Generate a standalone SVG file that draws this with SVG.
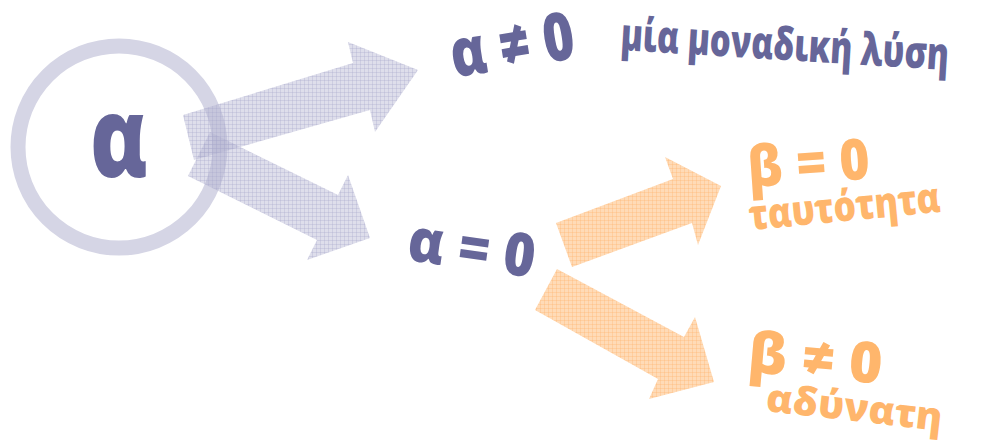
<svg xmlns="http://www.w3.org/2000/svg" width="982" height="441" viewBox="0 0 982 441">
<defs>
<style>
.t{font-family:"Open Sans","Liberation Sans",sans-serif;font-weight:800;text-anchor:middle}
.p{fill:#666699}
.o{fill:#ffb66c}
.ap{fill:url(#patP)}
.ao{fill:url(#patO)}
</style>
<pattern id="patP" width="4" height="4" patternUnits="userSpaceOnUse">
<rect width="4" height="4" fill="#b4b4d2" fill-opacity="0.44"/>
<rect width="1" height="4" fill="#a8a8ca" fill-opacity="0.3"/>
<rect width="4" height="1" fill="#a8a8ca" fill-opacity="0.3"/>
</pattern>
<pattern id="patO" width="4" height="4" patternUnits="userSpaceOnUse">
<rect width="4" height="4" fill="#ffb870" fill-opacity="0.5"/>
<rect width="1" height="4" fill="#ffb066" fill-opacity="0.3"/>
<rect width="4" height="1" fill="#ffb066" fill-opacity="0.3"/>
</pattern>
</defs>
<rect width="982" height="441" fill="#ffffff"/>
<g id="node-alpha-ring">
<circle cx="119" cy="147" r="101" fill="none" stroke="#d5d5e5" stroke-width="15"/>
</g>
<g id="connectors">
<polygon class="ap" points="183,115 353,63 348,42 418,70 375,132 370,110 194,160"/>
<polygon class="ap" points="210,132 338,195 348,175 370,238 307,260 317,240 188,176"/>
<polygon class="ao" points="556,223 673,179 665,157 721,186 698,245 692,223 572,267"/>
<polygon class="ao" points="557,269 684,337 695,317 714,382 649,399 658,379 535,310"/>
</g>
<g id="node-alpha">
<text class="t p" x="0" y="0" font-size="112" textLength="68" lengthAdjust="spacingAndGlyphs" transform="translate(119 177) scale(0.85 1)">α</text>
</g>
<g id="node-a-ne-0">
<text class="t p" x="0" y="0" font-size="67" textLength="156" lengthAdjust="spacingAndGlyphs" transform="rotate(-9 512 45) translate(512 68) scale(0.8 1)">α ≠ 0</text>
<text class="t p" x="0" y="0" font-size="45" textLength="411" lengthAdjust="spacingAndGlyphs" transform="rotate(3.5 784 60) translate(784 60) scale(0.8 1)">μία μοναδική λύση</text>
</g>
<g id="node-a-eq-0">
<text class="t p" x="0" y="0" font-size="60" textLength="142" lengthAdjust="spacingAndGlyphs" transform="rotate(8 471 255) translate(471 269) scale(0.9 1)">α = 0</text>
</g>
<g id="node-b-eq-0">
<text class="t o" x="809" y="183" font-size="57" textLength="122" lengthAdjust="spacingAndGlyphs" transform="rotate(-4 809 170)">β = 0</text>
<text class="t o" x="0" y="0" font-size="42" textLength="213" lengthAdjust="spacingAndGlyphs" transform="rotate(-5.5 846 221) translate(846 221) scale(0.9 1)">ταυτότητα</text>
</g>
<g id="node-b-ne-0">
<text class="t o" x="815" y="378" font-size="57" textLength="134" lengthAdjust="spacingAndGlyphs" transform="rotate(5 815 365)">β ≠ 0</text>
<text class="t o" x="853" y="421" font-size="39" textLength="177" lengthAdjust="spacingAndGlyphs" transform="rotate(6.5 853 421)">αδύνατη</text>
</g>
</svg>
